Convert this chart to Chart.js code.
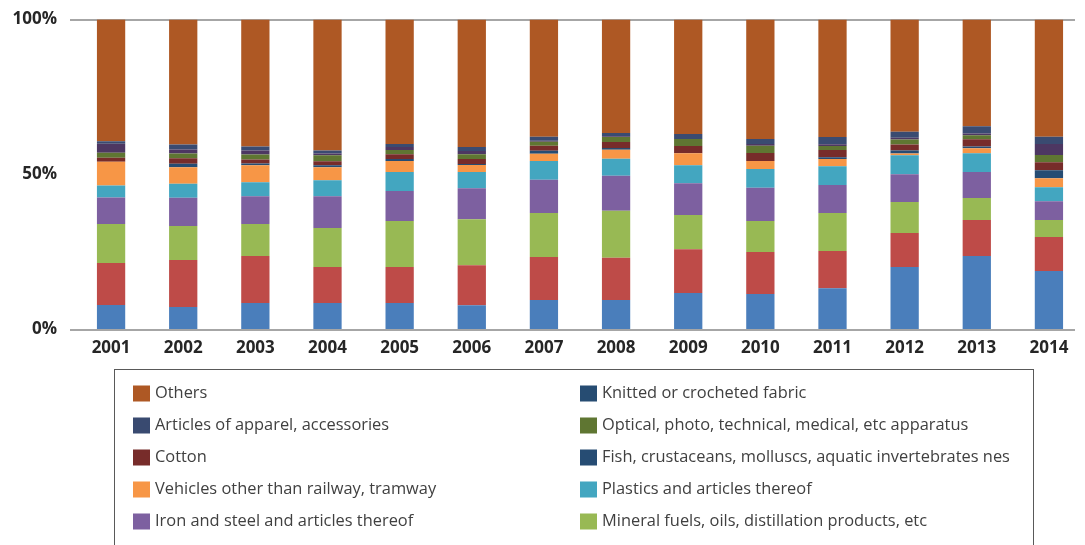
<!DOCTYPE html>
<html>
<head>
<meta charset="utf-8">
<script src="https://cdn.jsdelivr.net/npm/chart.js@4.4.1/dist/chart.umd.min.js"></script>
<style>
  html, body { margin: 0; padding: 0; background: #ffffff; overflow: hidden; }
  #wrap { position: relative; width: 1085px; height: 545px; }
</style>
</head>
<body>
<div id="wrap"><canvas id="chart" width="1085" height="545"></canvas></div>
<script>
// Years on the category axis
const years = ['2001', '2002', '2003', '2004', '2005', '2006', '2007',
               '2008', '2009', '2010', '2011', '2012', '2013', '2014'];

// Share of total (%) per product group, bottom of the stack first
const seriesBlue   = [7.75, 7.1, 8.4, 8.4, 8.4, 7.7, 9.4, 9.4, 11.6, 11.3, 13.2, 20.0, 23.6, 18.7];
const seriesRed    = [13.6, 15.2, 15.2, 11.6, 11.6, 12.9, 13.9, 13.6, 14.2, 13.6, 12.0, 11.0, 11.6, 11.0];
const mineralFuels = [12.6, 11.0, 10.3, 12.6, 14.9, 14.9, 14.2, 15.2, 11.0, 10.0, 12.3, 10.0, 7.1, 5.5];
const ironSteel    = [8.5, 9.1, 9.0, 10.3, 9.7, 10.0, 10.7, 11.3, 10.3, 10.7, 9.0, 9.0, 8.4, 6.1];
const plastics     = [3.9, 4.5, 4.5, 5.2, 6.1, 5.2, 6.1, 5.5, 5.8, 6.1, 6.1, 6.1, 6.1, 4.5];
const vehicles     = [7.7, 5.4, 5.5, 4.2, 3.6, 2.3, 2.3, 2.9, 3.9, 2.6, 2.3, 0.6, 1.6, 2.9];
const fish         = [0, 1.1, 0.6, 0.6, 0.6, 0.3, 1.0, 0.6, 0, 0, 0.6, 1.0, 0.6, 2.6];
const cotton       = [1.3, 1.8, 1.3, 1.3, 1.6, 1.6, 1.6, 1.9, 2.3, 2.6, 2.3, 1.9, 2.3, 2.6];
const optical      = [1.6, 1.5, 1.6, 1.9, 1.3, 1.6, 1.3, 1.6, 2.3, 2.3, 1.3, 1.6, 1.3, 2.3];
const apparel      = [2.9, 1.3, 1.3, 0.6, 1.0, 1.0, 0.3, 0.3, 0, 0.6, 0.6, 0.6, 0.6, 3.6];
const knitted      = [0.8, 1.6, 1.3, 1.0, 1.0, 1.3, 1.3, 1.0, 1.6, 1.6, 2.3, 1.9, 2.3, 2.3];
const others       = [39.4, 40.4, 41.0, 42.3, 40.2, 41.2, 37.9, 36.7, 37.0, 38.6, 38.0, 36.3, 34.5, 37.9];

// Value-axis ticks
const yTickValues = [0, 50, 100];
const yTickLabels = ['0%', '50%', '100%'];

const datasets = [
  { label: null, data: seriesBlue, backgroundColor: '#4A7EBB' },
  { label: null, data: seriesRed, backgroundColor: '#BE4B48' },
  { label: 'Mineral fuels, oils, distillation products, etc', data: mineralFuels, backgroundColor: '#98B954' },
  { label: 'Iron and steel and articles thereof', data: ironSteel, backgroundColor: '#7D60A0' },
  { label: 'Plastics and articles thereof', data: plastics, backgroundColor: '#43A6C0' },
  { label: 'Vehicles other than railway, tramway', data: vehicles, backgroundColor: '#F79646' },
  { label: 'Fish, crustaceans, molluscs, aquatic invertebrates nes', data: fish, backgroundColor: '#264C73' },
  { label: 'Cotton', data: cotton, backgroundColor: '#772C2A' },
  { label: 'Optical, photo, technical, medical, etc apparatus', data: optical, backgroundColor: '#5F7632' },
  { label: 'Articles of apparel, accessories', data: apparel, backgroundColor: '#4D3762', swatch: '#394A70' },
  { label: 'Knitted or crocheted fabric', data: knitted, backgroundColor: '#3A4B71', swatch: '#264C72' },
  { label: 'Others', data: others, backgroundColor: '#AE5824' }
];

// Horizontal rules at 0% and 100%, and the boxed two-column key below the plot
const framePlugin = {
  id: 'frame',
  beforeDatasetsDraw(chart) {
    const { ctx, chartArea } = chart;
    const y = chart.scales.y;
    ctx.save();
    ctx.strokeStyle = '#A6A6A6';
    ctx.lineWidth = 2;
    const py = Math.round(y.getPixelForValue(100));
    ctx.beginPath();
    ctx.moveTo(chartArea.left - 5, py);
    ctx.lineTo(chartArea.right - 10, py);
    ctx.stroke();
    ctx.restore();
  },
  afterDatasetsDraw(chart) {
    const { ctx, chartArea } = chart;
    const y = chart.scales.y;
    ctx.save();
    ctx.strokeStyle = '#A6A6A6';
    ctx.lineWidth = 2;
    const py = Math.round(y.getPixelForValue(0)) + 1;
    ctx.beginPath();
    ctx.moveTo(chartArea.left - 5, py);
    ctx.lineTo(chartArea.right - 10, py);
    ctx.stroke();
    ctx.restore();
  },
  afterDraw(chart) {
    const { ctx } = chart;
    const items = chart.data.datasets.filter(d => d.label).slice().reverse();
    ctx.save();
    // key frame (runs past the bottom of the canvas)
    ctx.strokeStyle = '#595959';
    ctx.lineWidth = 1;
    ctx.strokeRect(114.5, 369.5, 919, 260);
    const colX = [133, 580];
    const rowY0 = 393.5, rowStep = 32;
    ctx.font = '16.4px "Open Sans", sans-serif';
    ctx.textBaseline = 'middle';
    ctx.textAlign = 'left';
    items.forEach((d, i) => {
      const x = colX[i % 2];
      const yy = rowY0 + Math.floor(i / 2) * rowStep;
      ctx.fillStyle = d.swatch || d.backgroundColor;
      ctx.fillRect(x, yy - 8, 17, 16);
      ctx.fillStyle = '#404040';
      ctx.fillText(d.label, x + 22, yy);
    });
    ctx.restore();
  }
};

new Chart(document.getElementById('chart'), {
  type: 'bar',
  data: { labels: years, datasets },
  options: {
    responsive: false,
    animation: false,
    devicePixelRatio: 1,
    barPercentage: 0.392,
    categoryPercentage: 1,
    layout: { padding: { top: 19.5, left: 0, right: 0, bottom: 0 } },
    plugins: { legend: { display: false }, tooltip: { enabled: false } },
    scales: {
      x: {
        stacked: true,
        grid: { display: false, drawTicks: false },
        border: { display: false },
        ticks: {
          padding: 9,
          color: '#262626',
          font: { family: '"Open Sans", sans-serif', size: 17, weight: 'bold' },
          maxRotation: 0
        },
        afterFit(scale) { scale.height = 216; scale.paddingLeft = 0; scale.paddingRight = 0; }
      },
      y: {
        stacked: true,
        min: 0,
        max: 100,
        grid: { display: false, drawTicks: false },
        border: { display: false },
        afterBuildTicks(scale) { scale.ticks = yTickValues.map(v => ({ value: v })); },
        ticks: {
          padding: 18,
          color: '#262626',
          font: { family: '"Open Sans", sans-serif', size: 17, weight: 'bold' },
          callback: (v) => yTickLabels[yTickValues.indexOf(v)]
        },
        afterFit(scale) { scale.width = 75; scale.paddingTop = 0; scale.paddingBottom = 0; }
      }
    }
  },
  plugins: [framePlugin]
});
</script>
</body>
</html>
